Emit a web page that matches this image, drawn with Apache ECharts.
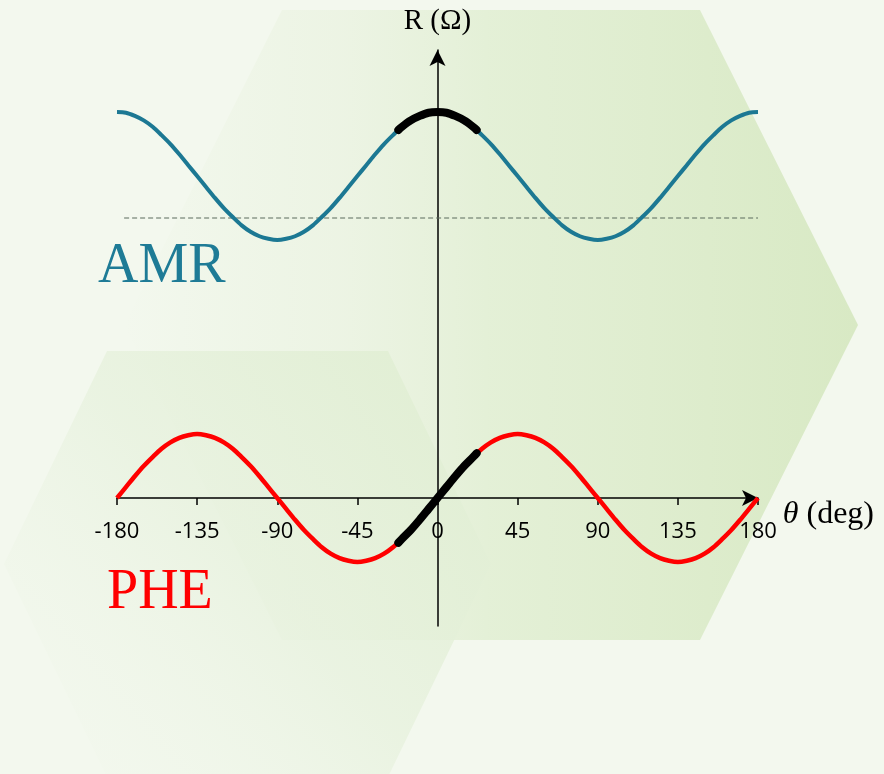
<!DOCTYPE html>
<html>
<head>
<meta charset="utf-8">
<script src="https://cdn.jsdelivr.net/npm/echarts@6/dist/echarts.min.js"></script>
<style>
html,body{margin:0;padding:0;background:#f3f8ee;}
#chart{width:884px;height:774px;}
</style>
</head>
<body>
<div id="chart"></div>
<script>
// ---- data ----
const theta = [-180,-175,-170,-165,-160,-155,-150,-145,-140,-135,-130,-125,-120,-115,-110,-105,-100,-95,
               -90,-85,-80,-75,-70,-65,-60,-55,-50,-45,-40,-35,-30,-25,-20,-15,-10,-5,
               0,5,10,15,20,25,30,35,40,45,50,55,60,65,70,75,80,85,
               90,95,100,105,110,115,120,125,130,135,140,145,150,155,160,165,170,175,180];
const amr = [6.03,6.02,5.97,5.90,5.80,5.67,5.53,5.37,5.20,5.03,4.86,4.69,4.53,4.39,4.26,4.16,4.09,4.05,
             4.03,4.05,4.09,4.16,4.26,4.39,4.53,4.69,4.86,5.03,5.20,5.37,5.53,5.67,5.80,5.90,5.97,6.02,
             6.03,6.02,5.97,5.90,5.80,5.67,5.53,5.37,5.20,5.03,4.86,4.69,4.53,4.39,4.26,4.16,4.09,4.05,
             4.03,4.05,4.09,4.16,4.26,4.39,4.53,4.69,4.86,5.03,5.20,5.37,5.53,5.67,5.80,5.90,5.97,6.02,6.03];
const phe = [0,0.17,0.34,0.50,0.64,0.77,0.87,0.94,0.98,1.00,0.98,0.94,0.87,0.77,0.64,0.50,0.34,0.17,
             0,-0.17,-0.34,-0.50,-0.64,-0.77,-0.87,-0.94,-0.98,-1.00,-0.98,-0.94,-0.87,-0.77,-0.64,-0.50,-0.34,-0.17,
             0,0.17,0.34,0.50,0.64,0.77,0.87,0.94,0.98,1.00,0.98,0.94,0.87,0.77,0.64,0.50,0.34,0.17,
             0,-0.17,-0.34,-0.50,-0.64,-0.77,-0.87,-0.94,-0.98,-1.00,-0.98,-0.94,-0.87,-0.77,-0.64,-0.50,-0.34,-0.17,0];
const thetaBlack = [-22,-20,-15,-10,-5,0,5,10,15,20,22];
const amrBlack   = [5.75,5.80,5.90,5.97,6.02,6.03,6.02,5.97,5.90,5.80,5.75];
const pheBlack   = [-0.70,-0.64,-0.50,-0.34,-0.17,0,0.17,0.34,0.50,0.64,0.70];
const dashTheta  = [-176,180];
const dashR      = [4.375,4.375];
const xMin = -180, xMax = 180, xStep = 45;
const yMin = -2, yMax = 7;

const zip = (a,b) => a.map((v,i)=>[v,b[i]]);

const chart = echarts.init(document.getElementById('chart'));
const gridTop = 50, gridBottom = 148, chartH = 774;
const plotH = chartH - gridTop - gridBottom;
// distance of value 0 above the grid bottom
const zeroFromBottom = plotH * (0 - yMin) / (yMax - yMin);

const option = {
  backgroundColor: '#f3f8ee',
  animation: false,
  grid: {left:117, right:126, top:gridTop, bottom:gridBottom, containLabel:false},
  graphic: [
    {type:'polygon', z:-10, silent:true,
     shape:{points:[[282,10],[700,10],[858,325],[700,640],[282,640],[124,325]]},
     style:{fill:{type:'linear',x:0,y:0,x2:1,y2:0,colorStops:[
       {offset:0,color:'rgba(226,238,212,0)'},
       {offset:0.3,color:'rgba(228,239,215,0.45)'},
       {offset:0.5,color:'rgba(226,239,212,0.9)'},
       {offset:1,color:'rgba(216,233,196,1)'}]}}},
    {type:'polygon', z:-9, silent:true,
     shape:{points:[[107,351],[388,351],[491,564],[388,777],[107,777],[4,564]]},
     style:{fill:{type:'linear',x:1,y:0,x2:0,y2:1,colorStops:[
       {offset:0,color:'rgba(224,238,210,1)'},
       {offset:0.5,color:'rgba(230,241,220,0.7)'},
       {offset:1,color:'rgba(240,246,234,0)'}]}}},
    {type:'text', left:98, top:239, z:10, silent:true,
     style:{text:'AMR', fill:'#1e7b96', font:'56px "Liberation Serif"'}},
    {type:'text', left:107, top:565, z:10, silent:true,
     style:{text:'PHE', fill:'#ff0000', font:'56px "Liberation Serif"'}}
  ],
  xAxis: {
    type:'value', min:xMin, max:xMax, interval:xStep,
    offset: -zeroFromBottom,
    name:'{i|θ} (deg)',
    nameLocation:'end', nameGap:20,
    nameTextStyle:{color:'#000', fontFamily:'Liberation Serif', fontSize:32, verticalAlign:'middle', padding:[34,0,0,0],
      rich:{i:{fontStyle:'italic', fontFamily:'Liberation Serif', fontSize:32, color:'#000'}}},
    axisLine:{show:true, onZero:false, symbol:['none','arrow'], symbolSize:[12,16], lineStyle:{color:'#000', width:1.5}},
    axisTick:{show:true, length:7, inside:false, lineStyle:{color:'#000', width:1.5}},
    axisLabel:{show:true, margin:23, color:'#000', fontFamily:'Open Sans', fontSize:22, showMinLabel:true, showMaxLabel:true},
    splitLine:{show:false}
  },
  yAxis: {
    type:'value', min:yMin, max:yMax,
    name:'R (Ω)', nameLocation:'end', nameGap:14,
    nameTextStyle:{color:'#000', fontFamily:'Liberation Serif', fontSize:29, align:'center'},
    axisLine:{show:true, onZero:true, symbol:['none','arrow'], symbolSize:[12,16], lineStyle:{color:'#000', width:1.5}},
    axisTick:{show:false}, axisLabel:{show:false}, splitLine:{show:false}
  },
  series: [
    {name:'baseline', type:'line', data:zip(dashTheta,dashR), symbol:'none', silent:true,
     lineStyle:{color:'#5a6a5d', width:1, type:[5,3]}, z:2},
    {name:'AMR', type:'line', data:zip(theta,amr), symbol:'none', smooth:0.3,
     lineStyle:{color:'#1c7893', width:4}, z:3},
    {name:'PHE', type:'line', data:zip(theta,phe), symbol:'none', smooth:0.3,
     lineStyle:{color:'#ff0000', width:4.5}, z:3},
    {name:'AMR linear', type:'line', data:zip(thetaBlack,amrBlack), symbol:'none', smooth:0.3,
     lineStyle:{color:'#000', width:8, cap:'round'}, z:4},
    {name:'PHE linear', type:'line', data:zip(thetaBlack,pheBlack), symbol:'none', smooth:0.3,
     lineStyle:{color:'#000', width:8, cap:'round'}, z:4}
  ]
};
chart.setOption(option);
</script>
</body>
</html>
